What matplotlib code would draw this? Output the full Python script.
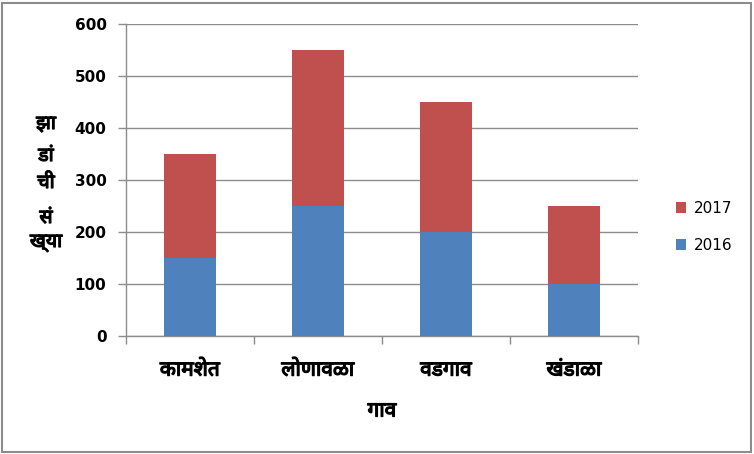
import matplotlib
matplotlib.use("Agg")
import matplotlib.pyplot as plt
from matplotlib.patches import Rectangle
import matplotlib.patheffects as pe

categories = ["कामशेत", "लोणावळा", "वडगाव", "खंडाळा"]
series_names = ["2016", "2017"]
values_2016 = [150, 250, 200, 100]
values_2017 = [200, 300, 250, 150]
y_ticks = [0, 100, 200, 300, 400, 500, 600]
x_title = "गाव"
y_title_lines = ["झा", "डां", "ची", "सं", "ख्या"]

DEVA = ["Noto Sans Devanagari", "Lohit Devanagari", "Noto Sans", "DejaVu Sans"]
NUM = ["DejaVu Sans"]
plt.rcParams["font.family"] = DEVA
BOLD = [pe.withStroke(linewidth=0.9, foreground="black")]

BLUE = "#4F81BD"
RED = "#C0504D"
GRID = "#8C8C8C"

fig = plt.figure(figsize=(7.54, 4.54), dpi=100)
ax = fig.add_axes([126/754, 1-336/454, 512/754, 312/454])

x = list(range(len(categories)))
b1 = ax.bar(x, values_2016, width=0.4, color=BLUE, label=series_names[0], zorder=3)
b2 = ax.bar(x, values_2017, width=0.4, bottom=values_2016, color=RED,
            label=series_names[1], zorder=3)

ax.set_xlim(-0.5, len(categories) - 0.5)
ax.set_ylim(0, 600)
ax.set_yticks(y_ticks)
ax.set_yticklabels([str(v) for v in y_ticks], fontsize=11, fontweight="bold",
                   family=NUM)
ax.yaxis.grid(True, color=GRID, linewidth=1, zorder=0)
ax.tick_params(axis="y", length=6, width=1, color=GRID, pad=8)

# boundary ticks (major) and labels at centers (minor)
ax.set_xticks([i - 0.5 for i in range(len(categories) + 1)])
ax.set_xticklabels([])
ax.tick_params(axis="x", which="major", length=6, width=1, color=GRID)
ax.set_xticks(x, minor=True)
labs = ax.set_xticklabels(categories, minor=True, fontsize=15)
for t in labs:
    t.set_path_effects(BOLD)
ax.tick_params(axis="x", which="minor", length=0, pad=17)

for s in ["top", "right"]:
    ax.spines[s].set_visible(False)
for s in ["left", "bottom"]:
    ax.spines[s].set_color(GRID)
    ax.spines[s].set_linewidth(1)

fig.text(382/754, 1-411/454, x_title, ha="center", va="center",
         fontsize=15, path_effects=BOLD)
for txt, yy in zip(y_title_lines, [124, 156, 183, 218, 242]):
    fig.text(46/754, 1-yy/454, txt, ha="center", va="center",
             fontsize=14, path_effects=BOLD)

handles = [b2, b1]
ax.legend(handles, [series_names[1], series_names[0]], loc="center left",
          bbox_to_anchor=(662/754, 1-227/454), bbox_transform=fig.transFigure,
          frameon=False, prop={"family": NUM, "size": 11},
          handlelength=0.7, handleheight=0.7,
          handletextpad=0.5, labelspacing=1.45)

fig.patches.append(Rectangle((2/754, 2/454), 749/754, 449/454,
                             transform=fig.transFigure, fill=False,
                             edgecolor="#8C8C8C", linewidth=1.5))

fig.savefig("out.png", dpi=100)
